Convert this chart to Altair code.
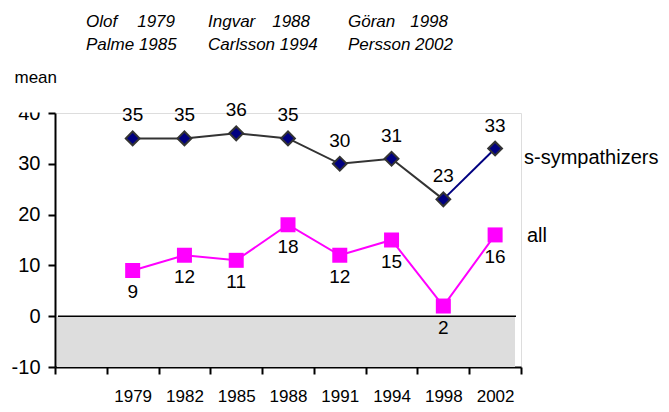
import altair as alt
import pandas as pd

years = ["1979", "1982", "1985", "1988", "1991", "1994", "1998", "2002"]
sympathizers = [35, 35, 36, 35, 30, 31, 23, 33]
all_voters = [9, 12, 11, 18, 12, 15, 2, 16]
y_ticks = [-10, 0, 10, 20, 30, 40]
leaders = [("Olof", "1979", "Palme 1985"),
           ("Ingvar", "1988", "Carlsson 1994"),
           ("Göran", "1998", "Persson 2002")]

FONT = "Liberation Sans"

df_s = pd.DataFrame({"year": years, "value": sympathizers})
df_a = pd.DataFrame({"year": years, "value": all_voters})
one = alt.Data(values=[{}])

x_enc = alt.X("year:N", sort=None,
              scale=alt.Scale(type="band", domain=[""] + years, paddingInner=0, paddingOuter=0),
              axis=alt.Axis(title=None, tickBand="extent", labelAngle=0, labelFont=FONT,
                            labelFontSize=17, labelPadding=14, labelColor="black",
                            domainColor="black", domainWidth=2, tickColor="black",
                            tickWidth=2, tickSize=7, grid=False))
y_enc = alt.Y("value:Q",
              scale=alt.Scale(domain=[-10, 40], nice=False, zero=False),
              axis=alt.Axis(values=y_ticks, labelExpr="'' + datum.value",
                            title="mean", titleAngle=0, titleX=-41, titleY=-36,
                            titleAlign="left", titleBaseline="middle", titleFont=FONT,
                            titleFontSize=17, titleFontWeight="normal", titleColor="black",
                            labelFont=FONT, labelFontSize=20, labelPadding=8, labelColor="black",
                            domainColor="black", domainWidth=2, tickColor="black",
                            tickWidth=2, tickSize=7, grid=False))

floor = alt.Chart(one).mark_rect(color="#DDDDDD").encode(
    x=alt.value(2), x2=alt.value(460), y=alt.datum(0), y2=alt.datum(-10))
zero_rule = alt.Chart(one).mark_rule(color="black", strokeWidth=1.5).encode(
    x=alt.value(3), x2=alt.value(461), y=alt.datum(0))
clip_box = alt.Chart(one).mark_rect(color="white").encode(
    x=alt.value(-44), x2=alt.value(-9), y=alt.value(-16), y2=alt.value(-0.5))

base_s = alt.Chart(df_s).encode(x=x_enc, y=y_enc)
line_s1 = alt.Chart(df_s.iloc[:7]).mark_line(color="#333333", strokeWidth=2).encode(x=x_enc, y=y_enc)
line_s2 = alt.Chart(df_s.iloc[6:]).mark_line(color="#000080", strokeWidth=2).encode(x=x_enc, y=y_enc)
pts_s = base_s.mark_point(shape="diamond", filled=True, fill="#000080", stroke="#333333",
                          strokeWidth=2, size=190, opacity=1)
lbl_s = base_s.mark_text(font=FONT, fontSize=19, dy=-23, color="black").encode(text="value:Q")

base_a = alt.Chart(df_a).encode(x=x_enc, y=y_enc)
line_a = base_a.mark_line(color="#FF00FF", strokeWidth=2)
pts_a = base_a.mark_point(shape="square", filled=True, color="#FF00FF", size=225, opacity=1)
lbl_a = base_a.mark_text(font=FONT, fontSize=19, dy=22, color="black").encode(text="value:Q")

def label(text, x, y, size=20, align="left", style="normal"):
    return alt.Chart(one).mark_text(text=text, font=FONT, fontSize=size, align=align,
                                    baseline="middle", fontStyle=style, color="black").encode(
        x=alt.value(x), y=alt.value(y))

annotations = [label("s-sympathizers", 469, 45), label("all", 472, 123)]
group_x = [(31, 120), (153, 255), (293, 393)]
for (first, yr, second), (xl, xr) in zip(leaders, group_x):
    annotations.append(label(first, xl, -91, 17, "left", "italic"))
    annotations.append(label(yr, xr, -91, 17, "right", "italic"))
    annotations.append(label(second, xl, -68, 17, "left", "italic"))

chart = alt.layer(floor, zero_rule, line_s1, line_s2, pts_s, lbl_s, line_a, pts_a, lbl_a,
                  clip_box, *annotations).properties(
    width=466, height=254,
    autosize=alt.AutoSizeParams(type="none"),
    padding={"left": 47, "top": 105, "right": 140, "bottom": 37},
).configure_view(stroke=None).configure(background="white")

chart.save("out.html", embed_options={"renderer": "svg", "actions": False})
